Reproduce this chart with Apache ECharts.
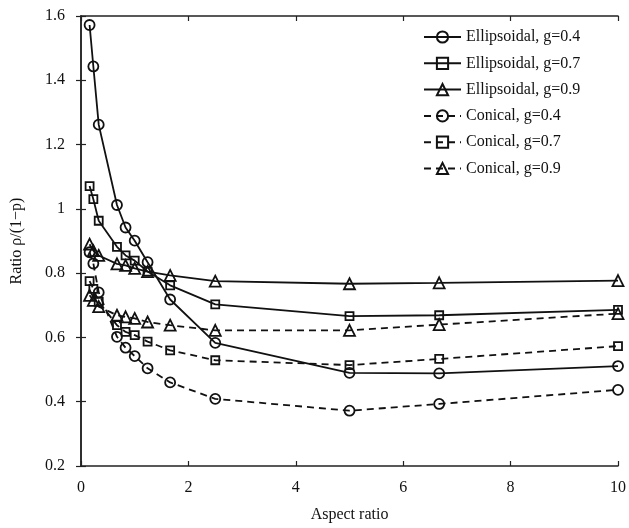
<!DOCTYPE html>
<html>
<head>
<meta charset="utf-8">
<script src="https://cdn.jsdelivr.net/npm/echarts@6/dist/echarts.min.js"></script>
<style>html,body{margin:0;padding:0;background:#fff;}#c{width:629px;height:528px;}</style>
</head>
<body>
<div id="c"></div>
<script>
var aspectRatios = [0.16, 0.23, 0.33, 0.67, 0.83, 1.0, 1.24, 1.66, 2.5, 5, 6.67, 10];
var ellipsoidal04 = [1.572, 1.443, 1.262, 1.012, 0.942, 0.901, 0.834, 0.718, 0.583, 0.490, 0.488, 0.511];
var ellipsoidal07 = [1.071, 1.030, 0.963, 0.882, 0.855, 0.839, 0.805, 0.762, 0.703, 0.666, 0.669, 0.686];
var ellipsoidal09 = [0.890, 0.870, 0.855, 0.829, 0.824, 0.815, 0.805, 0.793, 0.775, 0.767, 0.770, 0.777];
var conical04 = [0.865, 0.830, 0.740, 0.602, 0.568, 0.542, 0.504, 0.460, 0.409, 0.372, 0.393, 0.437];
var conical07 = [0.775, 0.751, 0.711, 0.638, 0.617, 0.607, 0.587, 0.560, 0.529, 0.514, 0.533, 0.573];
var conical09 = [0.731, 0.715, 0.696, 0.669, 0.664, 0.659, 0.648, 0.638, 0.622, 0.622, 0.640, 0.674];
var seriesNames = ['Ellipsoidal, g=0.4', 'Ellipsoidal, g=0.7', 'Ellipsoidal, g=0.9', 'Conical, g=0.4', 'Conical, g=0.7', 'Conical, g=0.9'];
var xTicks = [0, 2, 4, 6, 8, 10];
var yTicks = [0.2, 0.4, 0.6, 0.8, 1.0, 1.2, 1.4, 1.6];

var allValues = [ellipsoidal04, ellipsoidal07, ellipsoidal09, conical04, conical07, conical09];
var symbols = ['circle', 'rect', 'triangle', 'circle', 'rect', 'triangle'];
var symSizes = [10, 8, 11, 10, 8, 11];
var dashed = [false, false, false, true, true, true];
var font = '"Liberation Serif", "Times New Roman", serif';

function pairs(vals) { return aspectRatios.map(function (x, i) { return [x, vals[i]]; }); }

var series = allValues.map(function (vals, k) {
  return {
    name: seriesNames[k],
    type: 'line',
    data: pairs(vals),
    symbol: symbols[k],
    symbolSize: symSizes[k],
    showAllSymbol: true,
    lineStyle: { color: '#111', width: 1.8, type: dashed[k] ? [7, 5] : 'solid' },
    itemStyle: { color: 'rgba(255,255,255,0)', borderColor: '#111', borderWidth: 1.8 },
    emphasis: { disabled: true },
    animation: false
  };
});

var axisLine = { show: true, lineStyle: { color: '#222', width: 1.5 } };
var tick = { show: true, inside: true, length: 5, lineStyle: { color: '#222', width: 1.2 } };

var chart = echarts.init(document.getElementById('c'));
chart.setOption({
  backgroundColor: '#fff',
  animation: false,
  grid: { left: 81, right: 9, top: 16, bottom: 60, containLabel: false },
  legend: {
    orient: 'vertical', left: 423, top: 29, padding: 0,
    itemWidth: 37, itemHeight: 14, itemGap: 10.3,
    textStyle: { fontFamily: font, fontSize: 16, color: '#111', lineHeight: 16 },
    data: seriesNames
  },
  xAxis: [{
    type: 'value', position: 'bottom', min: 0, max: 10, interval: 2,
    axisLine: axisLine, axisTick: tick, splitLine: { show: false },
    axisLabel: { fontFamily: font, fontSize: 16, color: '#111', margin: 14 },
    name: 'Aspect ratio', nameLocation: 'middle', nameGap: 41,
    nameTextStyle: { fontFamily: font, fontSize: 16, color: '#111' }
  }, {
    type: 'value', position: 'top', min: 0, max: 10, interval: 2,
    axisLine: axisLine, axisTick: tick, splitLine: { show: false },
    axisLabel: { show: false }
  }],
  yAxis: [{
    type: 'value', position: 'left', min: 0.2, max: 1.6, interval: 0.2,
    axisLine: axisLine, axisTick: tick, splitLine: { show: false },
    axisLabel: { fontFamily: font, fontSize: 16, color: '#111', margin: 16 },
    name: 'Ratio ρ/(1−p)', nameLocation: 'middle', nameGap: 56, nameRotate: 90,
    nameTextStyle: { fontFamily: font, fontSize: 16, color: '#111' }
  }, {
    type: 'value', position: 'right', min: 0.2, max: 1.6, interval: 0.2,
    axisLine: axisLine, axisTick: tick, splitLine: { show: false },
    axisLabel: { show: false }
  }],
  series: series
});
</script>
</body>
</html>
